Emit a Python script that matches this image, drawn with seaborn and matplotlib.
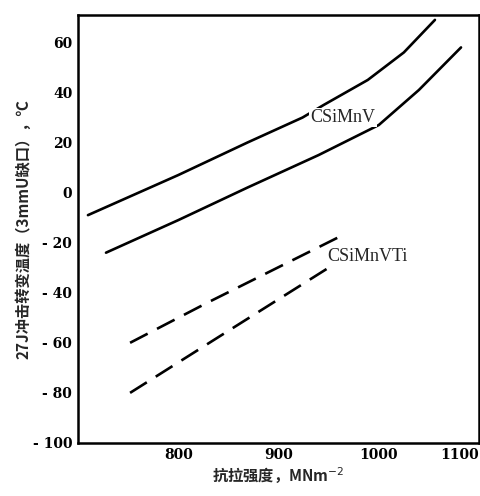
import matplotlib
matplotlib.use("Agg")
import matplotlib.pyplot as plt
import seaborn as sns
import pandas as pd

sns.set_theme(style="white")
plt.rcParams['font.family'] = ['Noto Sans CJK SC', 'DejaVu Sans']

# CSiMnV (upper curve)
v_upper_x = [710, 800, 869, 924, 945, 989, 1025, 1056]
v_upper_y = [-9, 7, 20, 30, 35, 45, 56, 69]
# CSiMnV (lower curve)
v_lower_x = [728, 800, 869, 940, 1000, 1040, 1082]
v_lower_y = [-24, -11, 2, 15, 27, 41, 58]
# CSiMnVTi (upper dashed)
ti_upper_x = [752, 829, 959]
ti_upper_y = [-60, -44, -18]
# CSiMnVTi (lower dashed)
ti_lower_x = [752, 839, 954]
ti_lower_y = [-80, -58, -29]

x_ticks = [800, 900, 1000, 1100]
y_ticks = [60, 40, 20, 0, -20, -40, -60, -80, -100]
y_tick_labels = ["60", "40", "20", "0", "- 20", "- 40", "- 60", "- 80", "- 100"]

fig = plt.figure(figsize=(4.81, 4.96), dpi=100)
ax = fig.add_axes([0.162, 0.107, 0.834, 0.863])

for xs, ys, ls in [(v_upper_x, v_upper_y, "-"), (v_lower_x, v_lower_y, "-"),
                   (ti_upper_x, ti_upper_y, "--"), (ti_lower_x, ti_lower_y, "--")]:
    df = pd.DataFrame({"x": xs, "y": ys})
    sns.lineplot(data=df, x="x", y="y", ax=ax, color="black", lw=1.9,
                 sort=False, estimator=None)
    if ls == "--":
        ax.lines[-1].set_dashes([7.5, 4])

ax.set_xlim(700, 1100)
ax.set_ylim(-100, 71)
ax.set_xticks(x_ticks)
ax.set_yticks(y_ticks)
ax.set_xticklabels([str(t) for t in x_ticks], fontfamily="DejaVu Serif",
                   fontweight="bold", fontsize=10)
ax.set_yticklabels(y_tick_labels, fontfamily="DejaVu Serif",
                   fontweight="bold", fontsize=10)
ax.get_xticklabels()[-1].set_horizontalalignment("right")
ax.tick_params(direction="in", length=6, width=1.5, colors="black", pad=4)
for s in ax.spines.values():
    s.set_color("black")
    s.set_linewidth(1.8)

ax.text(964, 30, "CSiMnV", fontfamily="Liberation Serif", fontsize=13,
        ha="center", va="center", zorder=5,
        bbox=dict(facecolor="white", edgecolor="none", pad=1))
ax.text(989, -25.5, "CSiMnVTi", fontfamily="Liberation Serif", fontsize=13,
        ha="center", va="center", zorder=5,
        bbox=dict(facecolor="white", edgecolor="none", pad=1))

ax.set_xlabel("抗拉强度，MNm$^{-2}$", fontsize=11, fontweight="bold", labelpad=2)
ax.set_ylabel("27J冲击转变温度（3mmU缺口），℃", fontsize=11, fontweight="bold",
              labelpad=1)

fig.savefig("out.png", dpi=100)
